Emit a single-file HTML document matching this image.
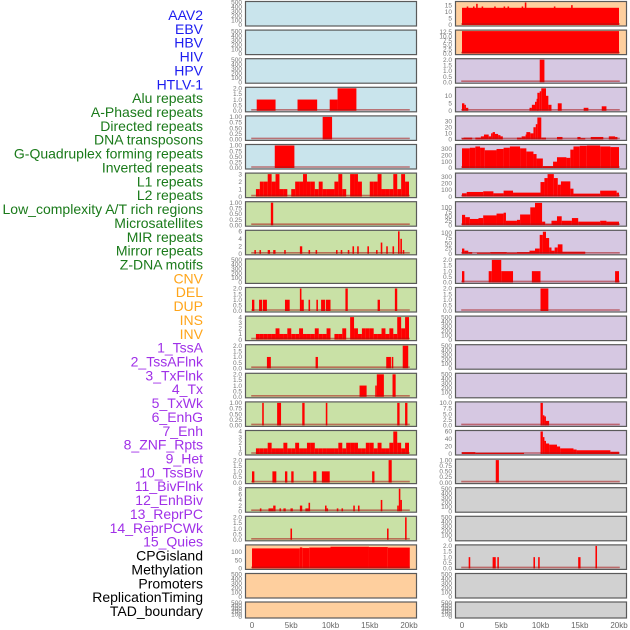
<!DOCTYPE html>
<html><head><meta charset="utf-8">
<style>
body{margin:0;background:#fff;}
svg{display:block;font-family:"Liberation Sans",sans-serif;}
</style></head>
<body>
<svg id="chart" width="630" height="630" viewBox="0 0 630 630"></svg>
<script>
// ---------- DATA ----------
const trackLabels = ["AAV2","EBV","HBV","HIV","HPV","HTLV-1","Alu repeats","A-Phased repeats","Directed repeats","DNA transposons","G-Quadruplex forming repeats","Inverted repeats","L1 repeats","L2 repeats","Low_complexity A/T rich regions","Microsatellites","MIR repeats","Mirror repeats","Z-DNA motifs","CNV","DEL","DUP","INS","INV","1_TssA","2_TssAFlnk","3_TxFlnk","4_Tx","5_TxWk","6_EnhG","7_Enh","8_ZNF_Rpts","9_Het","10_TssBiv","11_BivFlnk","12_EnhBiv","13_ReprPC","14_ReprPCWk","15_Quies","CPGisland","Methylation","Promoters","ReplicationTiming","TAD_boundary"];
const labelGroups = [6,13,5,15,5]; // virus, repeats, cnv, chromHMM, other
const xTickLabels = ["0","5kb","10kb","15kb","20kb"];
const xTickValues = [0,5,10,15,20];

const T500 = ["0","100","200","300","400","500"];
const T2 = ["0.0","0.5","1.0","1.5","2.0"];
const T1 = ["0.00","0.25","0.50","0.75","1.00"];

const leftBg = ["blue","blue","blue","blue","blue","blue","green","green","green","green","green","green","green","green","green","green","green","green","green","orange","orange","orange"];
const rightBg = ["orange","orange","purple","purple","purple","purple","purple","purple","purple","purple","purple","purple","purple","purple","purple","purple","gray","gray","gray","gray","gray","gray"];

const leftMax = [500,500,500,2,1,1,3,1,6,500,2,4,2,2,1,4,2,8,2,135,500,500];
const leftTickVals = [
 [0,100,200,300,400,500],[0,100,200,300,400,500],[0,100,200,300,400,500],
 [0,0.5,1,1.5,2],[0,0.25,0.5,0.75,1],[0,0.25,0.5,0.75,1],[0,1,2,3],[0,0.25,0.5,0.75,1],
 [0,2,4,6],[0,100,200,300,400,500],[0,0.5,1,1.5,2],[0,1,2,3,4],[0,0.5,1,1.5,2],[0,0.5,1,1.5,2],
 [0,0.25,0.5,0.75,1],[0,1,2,3,4],[0,0.5,1,1.5,2],[0,2,4,6,8],[0,0.5,1,1.5,2],[0,50,100],
 [0,100,200,300,400,500],[0,100,200,300,400,500]];
const leftTickText = [T500,T500,T500,T2,T1,T1,["0","1","2","3"],T1,["0","2","4","6"],T500,T2,["0","1","2","3","4"],T2,T2,T1,["0","1","2","3","4"],T2,["0","2","4","6","8"],T2,["0","50","100"],T500,T500];

// bar segments [startKb, endKb, value]
const leftSegs = [
 [],[],[],
 [[0.6,3.0,1],[5.8,8.3,1],[9.9,10.9,1],[10.9,13.3,2]],
 [[9.0,10.2,1]],
 [[2.9,5.4,1]],
 "bins7",
 [[2.4,2.7,1]],
 [[0.3,0.5,1],[0.95,1.15,1],[2.0,2.3,1],[2.7,3.0,1],[4.1,4.3,1],[6.1,6.4,2],[7.2,7.4,1],[8.1,8.3,1],[10.7,10.9,1],[11.3,11.5,1],[12.2,12.4,1],[12.8,13.0,2],[13.4,13.6,2],[14.7,14.9,2],[15.8,16.0,1],[16.4,16.6,3],[17.1,17.3,2],[17.9,18.1,2],[18.6,18.8,6],[18.9,19.1,4],[19.2,19.4,1]],
 [],
 [[0.0,0.3,1],[0.9,1.3,1],[1.4,1.9,1],[4.2,4.8,1],[6.1,6.3,2],[6.3,6.6,1],[7.2,7.4,1],[8.2,8.4,1],[8.8,9.3,1],[9.4,10.0,1],[11.9,12.2,2],[16.0,16.3,1],[18.2,18.5,2]],
 "bins12",
 [[1.9,2.4,1],[8.1,8.4,1],[17.1,17.7,1],[17.8,18.0,1],[19.2,19.9,2]],
 [[13.7,14.6,1],[15.7,15.9,1],[15.9,16.8,2],[17.9,18.3,2]],
 [[1.3,1.5,1],[3.2,3.7,1],[6.4,6.7,1],[9.4,9.6,1],[18.5,18.8,1],[19.5,19.8,1]],
 "bins16",
 [[0.0,0.3,1],[2.6,3.1,1],[4.2,4.5,1],[5.0,5.3,1],[7.8,8.2,1],[8.9,9.9,1],[15.3,15.6,1],[17.4,17.8,2]],
 [[1.0,1.2,1],[2.1,2.7,1],[2.7,3.0,2],[3.5,3.7,1],[4.0,4.3,1],[4.9,5.2,1],[6.1,6.4,2],[6.8,7.2,1],[7.2,7.4,3],[9.3,9.5,2],[9.5,9.6,1],[10.8,11.0,1],[11.4,11.6,1],[12.9,13.1,2],[13.5,13.7,2],[16.4,16.6,4],[18.5,18.7,2],[18.7,18.9,8],[18.9,19.1,4]],
 [[4.9,5.1,1],[17.2,17.4,1],[19.5,19.7,2]],
 [[0,6.1,120],[6.1,6.4,126],[6.4,7.3,122],[7.3,10.0,125],[10.0,14.9,130],[14.9,17.3,128],[17.3,20.1,125]],
 [],[]
];
const bins7 = [0,1,2,2,3,2,3,1,1,0,1,2,2,3,2,2,1,2,1,1,1,2,3,1,0,3,3,2,0,0,2,2,3,1,1,1,3,1,3,2];
const bins12 = [0,1,1,1,1,1,2,1,1,2,1,1,2,1,1,1,2,1,1,2,0,1,1,2,0,4,2,1,2,2,2,1,1,2,1,2,1,4,2,4];
const bins16 = [0,1,1,1,2,1,1,1,2,1,1,2,1,1,2,2,1,1,1,1,1,1,2,1,2,2,2,1,1,2,2,1,2,1,1,2,4,2,1,2];

const rightMax = [17,13,2,15,37,355,340,126,107,2,2,500,500,500,10,60,1,500,500,2,500,500];
const rightTickVals = [
 [0,5,10,15],[0,2.5,5,7.5,10,12.5],[0,0.5,1,1.5,2],[0,5,10],[0,10,20,30],[0,100,200,300],[0,100,200,300],
 [0,25,50,75,100],[0,25,50,75,100],[0,0.5,1,1.5,2],[0,0.5,1,1.5,2],[0,100,200,300,400,500],[0,100,200,300,400,500],[0,100,200,300,400,500],
 [0,2.5,5,7.5,10],[0,20,40,60],[0,0.25,0.5,0.75,1],[0,100,200,300,400,500],[0,100,200,300,400,500],[0,0.5,1,1.5,2],[0,100,200,300,400,500],[0,100,200,300,400,500]];
const rightTickText = [["0","5","10","15"],["0.0","2.5","5.0","7.5","10.0","12.5"],T2,["0","5","10"],["0","10","20","30"],["0","100","200","300"],["0","100","200","300"],
 ["0","25","50","75","100"],["0","25","50","75","100"],T2,T2,T500,T500,T500,["0.0","2.5","5.0","7.5","10.0"],["0","20","40","60"],T1,T500,T500,T2,T500,T500];
const rightSegs = [
 [[0,20,13],[0.6,0.8,14],[1.4,1.6,14],[1.8,2.0,16],[2.5,2.7,14],[4.1,4.3,14],[5.3,5.5,14],[5.8,6.0,14],[7.6,7.8,14],[8.0,8.2,17],[11.7,11.9,14],[13.9,14.1,15]],
 [[0,20,13]],
 [[9.9,10.5,2]],
 [[0,0.3,5],[0.3,0.5,4],[0.5,0.8,2],[8.6,8.9,2],[8.9,9.3,4],[9.3,9.5,6],[9.5,9.6,8],[9.6,9.9,12],[9.9,10.1,13],[10.1,10.7,15],[10.7,11.0,10],[11.0,11.4,4],[12.2,12.7,5],[15.5,16.1,2],[17.8,18.4,3]],
 [[0,0.2,2],[0.2,1.3,3],[1.7,2.4,3],[2.4,2.8,5],[2.8,3.4,8],[3.4,3.7,5],[3.7,3.9,10],[3.9,4.2,12],[4.2,4.6,9],[4.6,4.9,7],[4.9,5.2,5],[7.0,7.6,3],[7.6,8.1,5],[8.1,8.2,8],[8.2,8.7,12],[8.7,9.1,10],[9.1,9.4,20],[9.4,9.6,25],[9.6,10.1,36],[10.1,10.7,3],[12.1,12.8,4],[14.7,15.1,4],[15.1,15.7,2],[16.4,18.0,4],[18.7,19.5,5],[19.5,19.8,4]],
 [[0,1.0,310],[1.0,1.7,320],[1.7,2.3,340],[2.3,2.9,320],[2.9,4.4,280],[4.4,5.3,300],[5.3,6.1,320],[6.1,7.4,340],[7.4,8.2,310],[8.2,9.1,260],[9.1,9.5,220],[9.5,10.3,150],[10.3,11.6,30],[11.6,12.1,100],[12.1,13.3,170],[13.3,13.8,160],[13.8,14.2,290],[14.2,15.0,340],[15.0,15.9,350],[15.9,17.6,355],[17.6,18.9,340],[18.9,20.0,330]],
 [[0,0.6,50],[0.6,2.7,70],[2.7,4.0,80],[4.0,5.3,50],[5.3,6.5,90],[6.5,10.0,60],[10.0,10.5,220],[10.5,10.9,280],[10.9,11.7,340],[11.7,12.2,280],[12.2,12.6,180],[12.6,13.8,230],[13.8,14.2,120],[14.2,17.6,45],[17.6,19.7,90],[19.7,20.0,60]],
 [[0,0.4,58],[0.4,1.0,45],[1.0,2.1,35],[2.1,2.7,40],[2.7,4.4,55],[4.4,5.3,65],[5.3,5.6,70],[5.6,7.0,25],[7.0,7.4,30],[7.4,8.7,60],[8.7,9.3,100],[9.3,10.2,125],[10.2,10.6,20],[10.6,11.4,5],[11.4,12.1,25],[12.1,12.7,50],[12.7,14.0,25],[14.0,14.8,40],[14.8,17.6,20],[17.6,18.4,25],[18.4,20.0,20]],
 [[0,0.3,25],[0.3,0.8,15],[0.8,1.3,8],[1.9,3.6,5],[3.6,5.7,8],[5.7,7.0,5],[7.0,8.6,8],[8.6,9.3,15],[9.3,9.9,25],[9.9,10.3,90],[10.3,10.7,105],[10.7,11.1,75],[11.1,11.4,30],[11.4,11.8,15],[11.8,12.2,30],[12.2,12.8,45],[12.8,13.5,10],[13.5,15.7,10]],
 [[0,0.3,1],[3.4,3.8,1],[3.8,5.0,2],[5.0,6.5,1],[8.9,10.0,1],[19.5,20.0,1]],
 [[10.0,11.0,2]],
 [],[],[],
 [[10.0,10.3,10],[10.3,10.5,4.5],[10.5,10.6,4],[10.6,11.1,2]],
 [[0,1.7,5],[1.7,7.9,3],[10.0,10.3,60],[10.3,10.5,45],[10.5,10.7,35],[10.7,11.1,28],[11.1,12.1,25],[12.1,12.5,20],[12.5,14.2,15],[14.2,14.6,12],[14.6,18.9,10],[18.9,20.0,6]],
 [[4.3,4.7,1]],
 [],[],
 [[0.85,1.05,1],[3.9,4.3,1],[4.5,4.7,1],[9.1,9.3,1],[9.7,9.9,1],[14.8,15.1,1],[17.0,17.2,2]],
 [],[]
];

// ---------- LAYOUT ----------
const bgColors = {blue:"#c9e4ec", green:"#c9e1a6", orange:"#fecf9e", purple:"#d6c8e2", gray:"#d1d1d1"};
const labelColors = ["#1c1cf0","#1a7a1a","#ffa51a","#a030e8","#000000"];
const NS = "http://www.w3.org/2000/svg";
const svg = document.getElementById("chart");
function mk(tag, attrs, parent){
  const e = document.createElementNS(NS, tag);
  for (const k in attrs) e.setAttribute(k, attrs[k]);
  (parent||svg).appendChild(e);
  return e;
}
function rowTop(i){ return i < 21 ? 1 + i*28.6 : 601.5; }
function rowH(i){ return i < 21 ? 24.5 : 16; }
function xScale(side){ const x0 = side === 0 ? 252 : 462; return kb => x0 + kb*7.85; }
function binsToSegs(b){ const s=[]; b.forEach((v,i)=>{ if(v>0) s.push([i*0.5, i*0.5+0.5, v]); }); return s; }
const binMap = {bins7:bins7, bins12:bins12, bins16:bins16};

// labels
let li = 0;
labelGroups.forEach((n,g)=>{
  for (let k=0;k<n;k++){
    const y = 15 + li*13.86 + 5;
    const t = mk("text",{x:203,y:y,"text-anchor":"end","font-size":"14",fill:labelColors[g]});
    t.textContent = trackLabels[li];
    
    
    li++;
  }
});

function drawSide(side, bgs, maxs, tv, tt, segs){
  const xs = xScale(side);
  const px0 = side === 0 ? 245 : 455;
  for (let i=0;i<22;i++){
    const top = rowTop(i), h = rowH(i);
    const g = mk("g",{});
    
    
    mk("rect",{x:px0+0.5,y:top+0.5,width:171,height:h,fill:bgColors[bgs[i]],stroke:"#5a5a5a","stroke-width":1.2},g);
    const y0 = top + h - 0.5, y1 = top + 1.5;
    const ys = v => y0 - (v/maxs[i])*(y0-y1);
    // ticks
    tv[i].forEach((v,k)=>{
      const t = mk("text",{x:px0-3,y:ys(v)+2.2,"text-anchor":"end","font-size":"6.5",fill:"#777"},g);
      t.textContent = tt[i][k];
      
      
    });
    let s = segs[i];
    if (typeof s === "string") s = binsToSegs(binMap[s]);
    s.forEach(d=>{
      const r = mk("rect",{x:xs(d[0]),y:ys(d[2]),width:Math.max(1.5,xs(d[1])-xs(d[0])),height:y0-ys(d[2]),fill:"#ff0000"},g);
      
      
    });
    if (maxs[i] !== 500) {
      const bl = mk("line",{x1:xs(-0.1),x2:xs(20.1),y1:y0-1,y2:y0-1,stroke:"rgba(170,20,20,0.55)","stroke-width":1.6},g);
      
      
    }
  }
  xTickValues.forEach((v,k)=>{
    const t = mk("text",{x:xs(v),y:628,"text-anchor":"middle","font-size":"8",fill:"#666"});
    t.textContent = xTickLabels[k];
    
    
  });
}
drawSide(0, leftBg, leftMax, leftTickVals, leftTickText, leftSegs);
drawSide(1, rightBg, rightMax, rightTickVals, rightTickText, rightSegs);
</script>
</body></html>
